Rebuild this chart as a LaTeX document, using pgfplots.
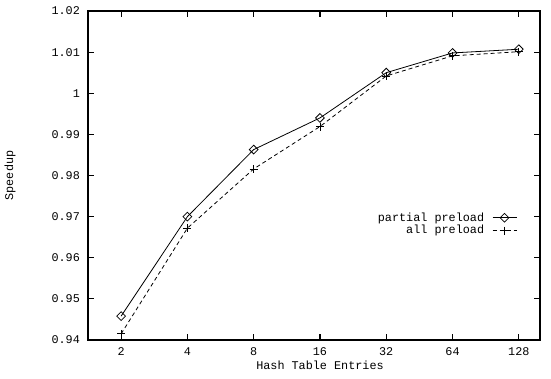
\documentclass[border=0pt]{standalone}
\usepackage{pgfplots}
\pgfplotsset{compat=1.18}
\usepackage{fontspec}
\setmainfont{Liberation Mono}
\begin{document}
\fontsize{11.8bp}{14bp}\selectfont
\begin{tikzpicture}
\begin{axis}[
  name=ax,
  scale only axis,
  width=452bp, height=329bp,
  xmin=-0.5, xmax=6.32,
  ymin=0.94, ymax=1.02,
  xtick={0,1,2,3,4,5,6},
  xticklabels={2,4,8,16,32,64,128},
  ytick={0.94,0.95,0.96,0.97,0.98,0.99,1,1.01,1.02},
  yticklabels={0.94,0.95,0.96,0.97,0.98,0.99,1,1.01,1.02},
  tick align=inside,
  major tick length=6bp,
  minor tick num=0,
  axis line style={line width=1.3bp},
  every tick/.style={line width=1.1bp, black},
  /pgf/number format/assume math mode=true,
  xticklabel style={anchor=center, yshift=-12bp},
  yticklabel style={xshift=-4bp},
  xlabel={Hash Table Entries},
  ylabel={Speedup},
  xlabel style={at={(axis description cs:0.5,0)}, anchor=center, yshift=-25bp, xshift=6bp},
  ylabel style={at={(axis description cs:-0.1726,0.5)}, anchor=center},
  legend style={draw=none, fill=none, at={(rel axis cs:0.956,0.40)}, anchor=north east,
    row sep=-1.5bp, font=\fontsize{11.8bp}{14bp}\selectfont,
    /tikz/every odd column/.append style={column sep=6bp}},
  legend cell align=right,
  legend plot pos=right,
  legend image code/.code={\draw[mark repeat=2,mark phase=2] plot coordinates {(0bp,0bp) (12bp,0bp) (24bp,0bp)};},
]
\addplot[black, line width=0.8bp, mark=square, mark size=3.1bp, mark options={rotate=45, solid, fill=white}]
  coordinates {(0,0.9458) (1,0.9700) (2,0.9863) (3,0.9940) (4,1.0050) (5,1.0098) (6,1.0107)};
\addlegendentry{partial preload}
\addplot[black, line width=0.8bp, dash pattern=on 4bp off 3bp, mark=+, mark size=4bp, mark options={solid}]
  coordinates {(0,0.9415) (1,0.9672) (2,0.9816) (3,0.9919) (4,1.0042) (5,1.0091) (6,1.0101)};
\addlegendentry{all preload}
\end{axis}
\path ([shift={(-88bp,-39bp)}]ax.south west) rectangle ([shift={(11bp,11bp)}]ax.north east);
\end{tikzpicture}
\end{document}
